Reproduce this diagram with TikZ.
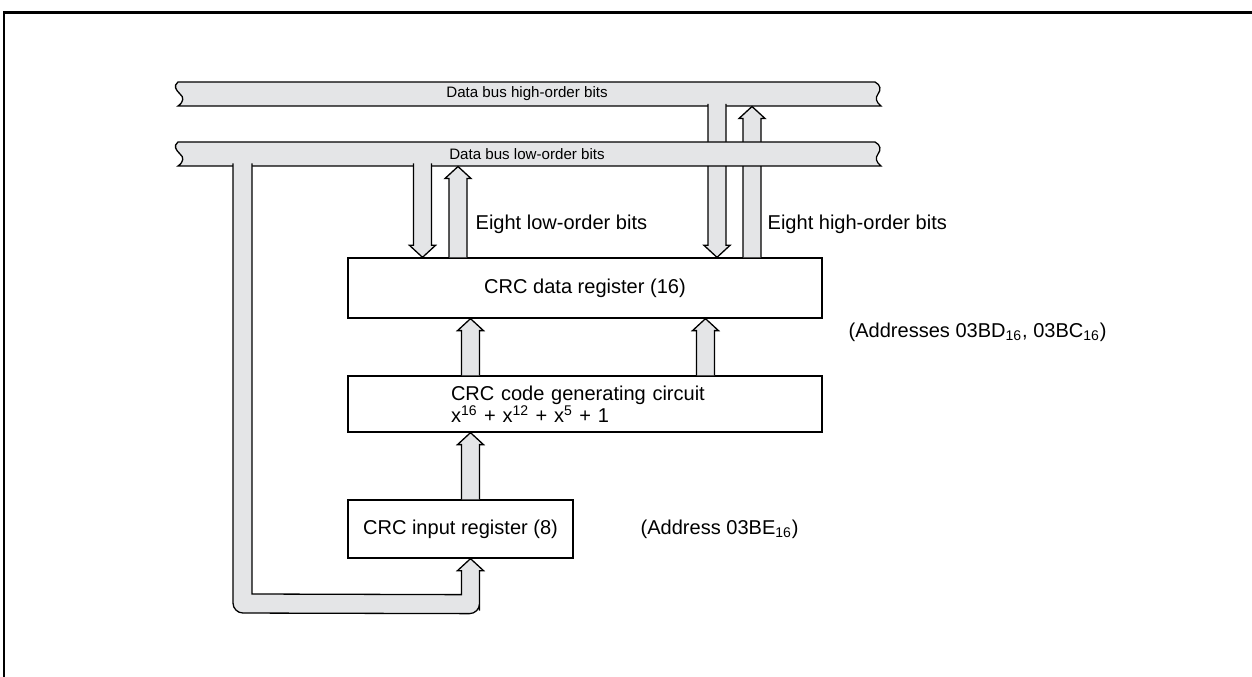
\documentclass[tikz,border=0pt]{standalone}
\usepackage{fontspec}
\setmainfont{Liberation Sans}
\usetikzlibrary{calc,positioning}
\definecolor{busgray}{RGB}{228,229,231}
\newcommand{\fatarrow}[2]{%
  \filldraw[fatbody] let \p1=#1, \p2=#2, \n1={ifthenelse(\y2>\y1,1,-1)}, \n2={\y2-(\n1)*2.4mm} in
    (\x1-1.8mm,\y1) -- (\x1-1.8mm,\n2) -- (\x1-2.6mm,\n2) -- (\x1,\y2)
    -- (\x1+2.6mm,\n2) -- (\x1+1.8mm,\n2) -- (\x1+1.8mm,\y1);}
\newcommand{\databus}[2]{%
  \filldraw[fatbody] (178,#1) -- (875,#1)
    .. controls (881,#1+3) and (881,#1+8) .. (878,#1+12)
    .. controls (875,#1+16) and (876,#2-4) .. (881,#2)
    -- (178,#2)
    .. controls (184,#2-4) and (184,#2-9) .. (180,#1+12)
    .. controls (176,#1+8) and (173,#1+4) .. (178,#1) -- cycle;}
\begin{document}
\begin{tikzpicture}[x=0.2mm, y=-0.2mm, line width=0.26mm,
    reg/.style={rectangle, draw=black, fill=white, font=\fontsize{11.4}{12.5}\selectfont, align=center},
    note/.style={inner sep=0pt, font=\fontsize{11.4}{12.5}\selectfont},
    buslabel/.style={inner sep=0pt, font=\fontsize{8.6}{10}\selectfont},
    fatbody/.style={draw=black, fill=busgray, line join=miter}
]
\useasboundingbox (0,0) rectangle (1252,677);
\draw[line width=0.6mm] (3,13) -- (1252,13);
\draw[line width=0.3mm] (4,13) -- (4,677);

\node[reg, minimum width=94.8mm, minimum height=12mm] (datareg) at (585,288) {CRC data register (16)};
\node[reg, minimum width=94.8mm, minimum height=11.2mm, text width=53.6mm, inner xsep=20.6mm, align=left] (gencirc) at (585,404)
    {CRC code generating circuit\\x\textsuperscript{16} + x\textsuperscript{12} + x\textsuperscript{5} + 1};
\node[reg, minimum width=45mm, minimum height=11.6mm] (inreg) at (460.5,529) {CRC input register (8)};

\node[note, anchor=west] (eightlow) at (475,224) {Eight low-order bits};
\node[note, anchor=west] (eighthigh) at (767,224) {Eight high-order bits};
\node[note, anchor=west] (dataaddr) at (848,332) {(Addresses 03BD\textsubscript{16}, 03BC\textsubscript{16})};
\node[note, anchor=west] (inaddr) at (640,529) {(Address 03BE\textsubscript{16})};

\coordinate (lowtapA) at (422.5,163.5);
\coordinate (lowtapB) at (458,166.5);
\coordinate (hightapA) at (717,104);
\coordinate (hightapB) at (752,106.5);
\coordinate (colL) at (470.5,0);
\coordinate (colR) at (705.5,0);
\coordinate (loopend) at (colL |- inreg.south);

\databus{82}{106}
\node[buslabel] (highlabel) at (527,94) {Data bus high-order bits};
\fatarrow{(hightapA)}{(hightapA |- datareg.north)}
\fatarrow{(hightapB |- datareg.north)}{(hightapB)}

\databus{142}{166}
\node[buslabel] (lowlabel) at (527,154) {Data bus low-order bits};
\fatarrow{(lowtapA)}{(lowtapA |- datareg.north)}
\fatarrow{(lowtapB |- datareg.north)}{(lowtapB)}

\fatarrow{(colL |- gencirc.north)}{(colL |- datareg.south)}
\fatarrow{(colR |- gencirc.north)}{(colR |- datareg.south)}
\fatarrow{(colL |- inreg.north)}{(colL |- gencirc.south)}

\filldraw[fatbody] (233,163.5) [rounded corners=2mm] -- (233,613) -- ($(loopend)+(9,55)$) -- ($(loopend)+(9,42)$)
    [sharp corners] -- ($(loopend)+(9,12)$) -- ($(loopend)+(13,12)$) -- (loopend) -- ($(loopend)+(-13,12)$)
    -- ($(loopend)+(-9,12)$) -- ($(loopend)+(-9,36)$) -- (252,594) -- (252,163.5);
\end{tikzpicture}
\end{document}
